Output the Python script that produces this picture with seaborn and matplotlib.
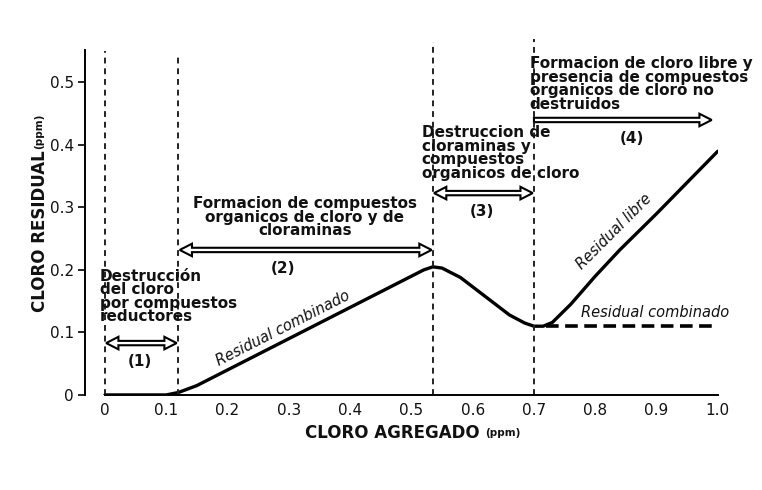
import matplotlib
matplotlib.use("Agg")
import matplotlib.pyplot as plt
import seaborn as sns
import pandas as pd
from matplotlib.patches import Polygon

sns.set_theme(style="white")
plt.rcParams['font.family'] = ['DejaVu Sans']

# Curve data (cloro agregado vs cloro residual)
cloro_agregado = [0.0, 0.05, 0.10, 0.12, 0.15, 0.20, 0.30, 0.40, 0.50, 0.52, 0.535, 0.55,
                  0.58, 0.62, 0.66, 0.685, 0.70, 0.715, 0.73, 0.76, 0.80, 0.84, 0.90, 1.00]
cloro_residual = [0.0, 0.0, 0.0, 0.004, 0.015, 0.04, 0.09, 0.14, 0.19, 0.200, 0.205, 0.203,
                  0.188, 0.158, 0.128, 0.115, 0.110, 0.110, 0.116, 0.145, 0.19, 0.232, 0.29, 0.39]
combinado_x = [0.72, 1.00]
combinado_y = [0.110, 0.110]
zonas_x = [0.0, 0.119, 0.535, 0.70]
zonas_top = [0.55, 0.545, 0.565, 0.57]
x_ticks = [0, 0.1, 0.2, 0.3, 0.4, 0.5, 0.6, 0.7, 0.8, 0.9, 1.0]
x_labels = ["0", "0.1", "0.2", "0.3", "0.4", "0.5", "0.6", "0.7", "0.8", "0.9", "1.0"]
y_ticks = [0, 0.1, 0.2, 0.3, 0.4, 0.5]
y_labels = ["0", "0.1", "0.2", "0.3", "0.4", "0.5"]

fig = plt.figure(figsize=(7.62, 4.90), dpi=100)
ax = fig.add_axes([0.1115, 0.194, 0.8305, 0.704])

df = pd.DataFrame({"x": cloro_agregado, "y": cloro_residual})
sns.lineplot(data=df, x="x", y="y", ax=ax, color="black", linewidth=2.4, sort=False)
dfc = pd.DataFrame({"x": combinado_x, "y": combinado_y})
sns.lineplot(data=dfc, x="x", y="y", ax=ax, color="black", linewidth=2.6,
             linestyle=(0, (3.5, 1.8)))

for xv, top in zip(zonas_x, zonas_top):
    ax.plot([xv, xv], [0, top], color="#222222", lw=1.4, linestyle=(0, (3, 2.5)),
            clip_on=False)

ax.set_xlim(-0.0326, 1.0)
ax.set_ylim(0, 0.552)
ax.set_xticks(x_ticks)
ax.set_xticklabels(x_labels, fontsize=11, color="#111111")
ax.set_yticks(y_ticks)
ax.set_yticklabels(y_labels, fontsize=11, color="#111111")
ax.tick_params(axis="x", direction="in", length=5, width=1.2, color="black", pad=6)
ax.tick_params(axis="y", direction="out", length=5, width=1.2, color="black", left=True, pad=3)
for s in ["top", "right"]:
    ax.spines[s].set_visible(False)
ax.spines["left"].set_color("black")
ax.spines["bottom"].set_color("black")
ax.spines["left"].set_linewidth(1.4)
ax.spines["bottom"].set_linewidth(1.4)
ax.spines["bottom"].set_bounds(0, 1.0)
ax.set_xlabel("")
ax.set_ylabel("")

# axis labels
fig.text(0.630, 0.116, "CLORO AGREGADO", ha="right", va="center", fontsize=12,
         fontweight="bold", color="#111111")
fig.text(0.636, 0.116, "(ppm)", ha="left", va="center", fontsize=7.5, fontweight="bold",
         color="#111111")
fig.text(0.052, 0.529, "CLORO RESIDUAL", ha="center", va="center", rotation=90, fontsize=12,
         fontweight="bold", color="#111111")
fig.text(0.052, 0.733, "(ppm)", ha="center", va="center", rotation=90, fontsize=7.5,
         fontweight="bold", color="#111111")


def double_arrow(x0, x1, y, both=True, sw=0.0035, hw=0.010, hl=0.02):
    pts = []
    if both:
        pts += [(x0, y), (x0 + hl, y + hw), (x0 + hl, y + sw)]
    else:
        pts += [(x0, y + sw)]
    pts += [(x1 - hl, y + sw), (x1 - hl, y + hw), (x1, y), (x1 - hl, y - hw), (x1 - hl, y - sw)]
    if both:
        pts += [(x0 + hl, y - sw), (x0 + hl, y - hw)]
    else:
        pts += [(x0, y - sw)]
    ax.add_patch(Polygon(pts, closed=True, fc="white", ec="black", lw=1.5, clip_on=False,
                         joinstyle="miter"))


double_arrow(0.002, 0.117, 0.083)
double_arrow(0.122, 0.533, 0.232)
double_arrow(0.537, 0.698, 0.323)
double_arrow(0.700, 0.99, 0.44, both=False)

tkw = dict(fontsize=11, fontweight="bold", color="#111111", linespacing=0.88)
ax.text(0.057, 0.053, "(1)", ha="center", va="center", **tkw)
ax.text(0.29, 0.203, "(2)", ha="center", va="center", **tkw)
ax.text(0.615, 0.293, "(3)", ha="center", va="center", **tkw)
ax.text(0.86, 0.41, "(4)", ha="center", va="center", **tkw)

ax.text(-0.008, 0.202, "Destrucción\ndel cloro\npor compuestos\nreductores",
        ha="left", va="top", **tkw)
ax.text(0.326, 0.318, "Formacion de compuestos\norganicos de cloro y de\ncloraminas",
        ha="center", va="top", **tkw)
ax.text(0.517, 0.432, "Destruccion de\ncloraminas y\ncompuestos\norganicos de cloro",
        ha="left", va="top", **tkw)
ax.text(0.693, 0.542, "Formacion de cloro libre y\npresencia de compuestos\norganicos de cloro no\ndestruidos",
        ha="left", va="top", **tkw)

ikw = dict(fontsize=10.5, fontstyle="italic", color="#111111", ha="center", va="center")
ax.text(0.29, 0.107, "Residual combinado", rotation=27, **ikw)
ax.text(0.83, 0.262, "Residual libre", rotation=45, **ikw)
ax.text(0.897, 0.132, "Residual combinado", rotation=0, **ikw)

fig.savefig("out.png", dpi=100)
